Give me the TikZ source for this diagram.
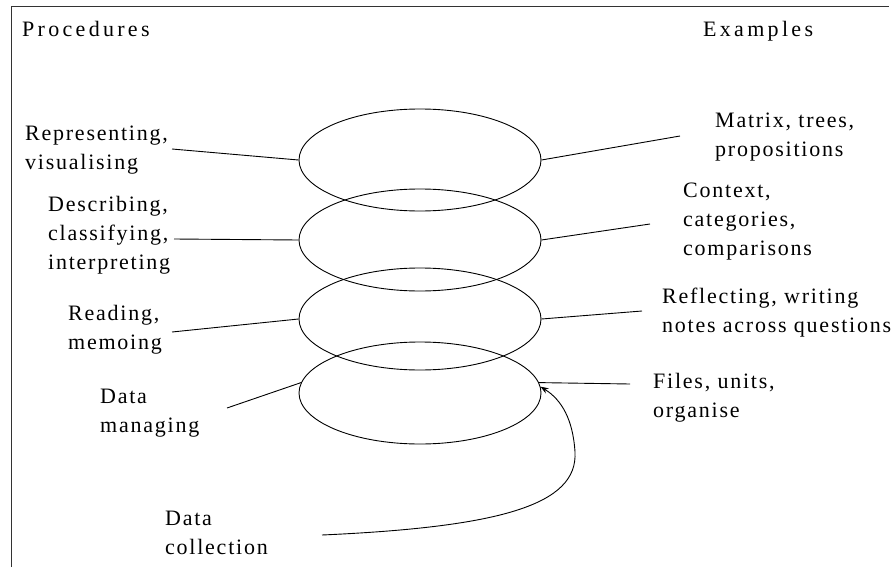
\documentclass[tikz,border=0pt]{standalone}
\usepackage{fontspec}
\setmainfont{Liberation Serif}[LetterSpace=8]
\usetikzlibrary{shapes.geometric,arrows.meta}

\begin{document}
\begin{tikzpicture}[x=1pt,y=-1pt,
  % labels are placed by the baseline of their last line
  lbl/.style={font=\fontsize{22}{29}\selectfont, align=left, inner sep=0pt, anchor=base west},
  head/.style={lbl, font=\fontsize{22}{29}\selectfont\addfontfeatures{LetterSpace=15}},
  ring/.style={draw, ellipse, minimum width=242pt, minimum height=102pt, inner sep=0pt, line width=0.9pt},
  link/.style={line width=0.9pt},
  frameline/.style={line width=0.9pt, draw=black!80}]

\useasboundingbox (0,0) rectangle (893,567);
\draw[frameline] (11,567) -- (11,6) -- (889,6);

% column headings
\node[head] (proc) at (22,37) {Procedures};
\node[head] (exam) at (703,37) {Examples};

% the four stacked rings
\node[ring] (e1) at (420,160) {};
\node[ring] (e2) at (420,240) {};
\node[ring] (e3) at (420,319) {};
\node[ring] (e4) at (420,393) {};

% procedures (left)
\node[lbl] (rep) at (25,169) {Representing,\\visualising};
\node[lbl] (desc) at (48,269) {Describing,\\classifying,\\interpreting};
\node[lbl] (read) at (68,349) {Reading,\\memoing};
\node[lbl] (dman) at (100,432) {Data\\managing};
\node[lbl] (dcol) at (165,554) {Data\\collection};

% examples (right)
\node[lbl] (mat) at (715,156) {Matrix, trees,\\propositions};
\node[lbl] (ctx) at (683,255) {Context,\\categories,\\comparisons};
\node[lbl] (refl) at (662,332) {Reflecting, writing\\notes across questions};
\node[lbl] (files) at (653,417) {Files, units,\\organise};

% connector ends beside the labels
\coordinate (rep-c) at (172,149);
\coordinate (desc-c) at (174,239);
\coordinate (read-c) at (172,332);
\coordinate (dman-c) at (227,408);
\coordinate (dcol-c) at (322,535);
\coordinate (mat-c) at (680,136);
\coordinate (ctx-c) at (650,224);
\coordinate (refl-c) at (642,311);
\coordinate (files-c) at (630,384);

\draw[link] (rep-c) -- (e1.west);
\draw[link] (desc-c) -- (e2.west);
\draw[link] (read-c) -- (e3.west);
\draw[link] (dman-c) -- (e4.175);

\draw[link] (e1.east) -- (mat-c);
\draw[link] (e2.east) -- (ctx-c);
\draw[link] (e3.east) -- (refl-c);
\draw[link] (files-c) -- (e4.5);

\draw[link, -{Stealth[length=8pt,width=6pt]}] (dcol-c)
  .. controls (500,527) and (578,505) .. (575,452)
  .. controls (573,420) and (562,400) .. (e4.3);
\end{tikzpicture}
\end{document}
